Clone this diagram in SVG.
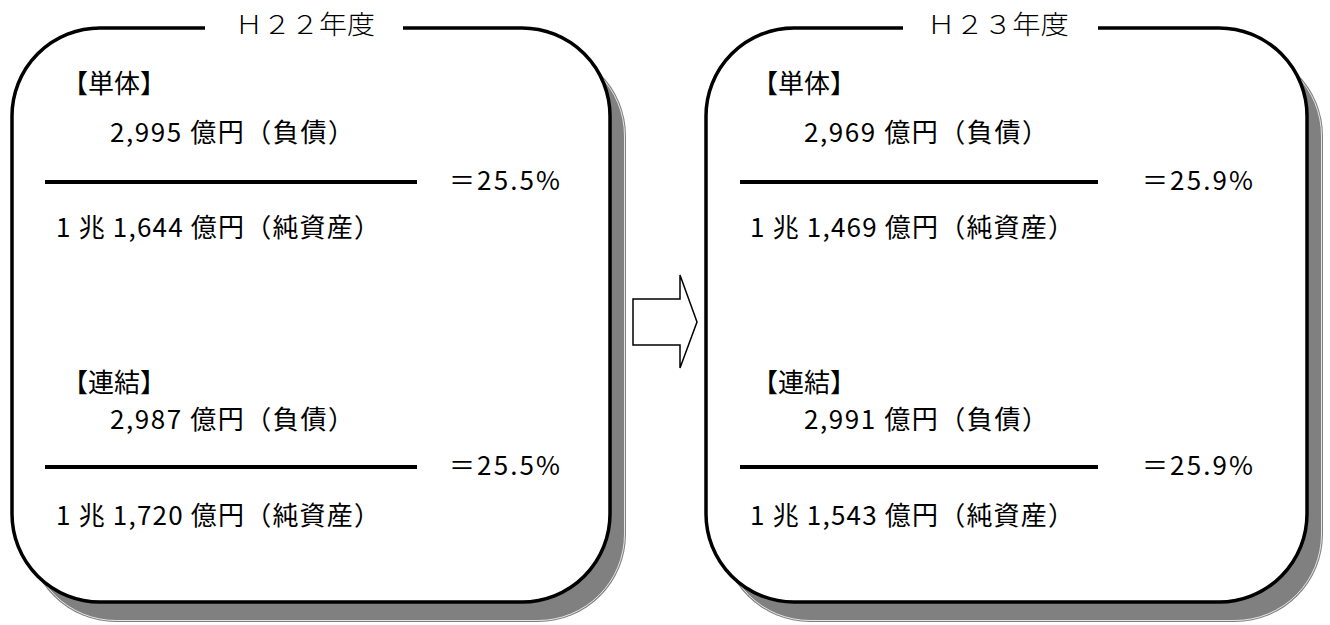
<svg xmlns="http://www.w3.org/2000/svg" width="1330" height="625" viewBox="0 0 1330 625">
<style>
.shadow{fill:#808080;stroke:none}
.shedge{fill:none;stroke:#ffffff;stroke-width:0.8}
.box{fill:#ffffff;stroke:#000000;stroke-width:3.5}
.gap{fill:#ffffff;stroke:none}
.rule{stroke:#000000;stroke-width:4}
.title{font-family:"Noto Sans CJK JP","Noto Sans CJK SC",sans-serif;font-size:26px;font-weight:300;fill:#000}
.t{font-family:"Noto Sans CJK JP","Noto Sans CJK SC",sans-serif;font-size:26px;fill:#000}
.arrow{fill:#ffffff;stroke:#000000;stroke-width:1.5}
</style>
<rect width="1330" height="625" fill="#ffffff"/>

<g id="box-h22">
  <rect class="shadow" x="28" y="48" width="598" height="574" rx="88" ry="88"/>
  <rect class="shedge" x="29.5" y="49.5" width="595" height="571" rx="86.5" ry="86.5"/>
  <rect class="box" x="12" y="28" width="598" height="574" rx="88" ry="88"/>
  <rect class="gap" x="205" y="20" width="198" height="16"/>
  <text class="title" x="235" y="34" textLength="140" lengthAdjust="spacingAndGlyphs">Ｈ２２年度</text>
  <text class="t" x="62" y="93">【単体】</text>
  <text class="t" x="110" y="142" textLength="244" lengthAdjust="spacing">2,995 億円（負債）</text>
  <line class="rule" x1="45" y1="182" x2="417" y2="182"/>
  <text class="t" x="449" y="190" textLength="111" lengthAdjust="spacing">＝25.5%</text>
  <text class="t" x="56" y="237" textLength="324" lengthAdjust="spacing">1 兆 1,644 億円（純資産）</text>
  <text class="t" x="62" y="392">【連結】</text>
  <text class="t" x="110" y="429" textLength="244" lengthAdjust="spacing">2,987 億円（負債）</text>
  <line class="rule" x1="45" y1="467" x2="417" y2="467"/>
  <text class="t" x="449" y="475" textLength="111" lengthAdjust="spacing">＝25.5%</text>
  <text class="t" x="56" y="525" textLength="324" lengthAdjust="spacing">1 兆 1,720 億円（純資産）</text>
</g>

<g id="box-h23">
  <rect class="shadow" x="722" y="48" width="601" height="574" rx="88" ry="88"/>
  <rect class="shedge" x="723.5" y="49.5" width="598" height="571" rx="86.5" ry="86.5"/>
  <rect class="box" x="706" y="28" width="601" height="574" rx="88" ry="88"/>
  <rect class="gap" x="903" y="20" width="195" height="16"/>
  <text class="title" x="927" y="34" textLength="142" lengthAdjust="spacingAndGlyphs">Ｈ２３年度</text>
  <text class="t" x="752" y="93">【単体】</text>
  <text class="t" x="804" y="142" textLength="244" lengthAdjust="spacing">2,969 億円（負債）</text>
  <line class="rule" x1="740" y1="182" x2="1098" y2="182"/>
  <text class="t" x="1142" y="190" textLength="111" lengthAdjust="spacing">＝25.9%</text>
  <text class="t" x="750" y="237" textLength="324" lengthAdjust="spacing">1 兆 1,469 億円（純資産）</text>
  <text class="t" x="752" y="392">【連結】</text>
  <text class="t" x="804" y="429" textLength="244" lengthAdjust="spacing">2,991 億円（負債）</text>
  <line class="rule" x1="740" y1="467" x2="1098" y2="467"/>
  <text class="t" x="1142" y="475" textLength="111" lengthAdjust="spacing">＝25.9%</text>
  <text class="t" x="750" y="525" textLength="324" lengthAdjust="spacing">1 兆 1,543 億円（純資産）</text>
</g>

<g id="connectors">
  <polygon class="arrow" points="633,299 680,299 680,275 697,322 680,368 680,345 633,345"/>
</g>
</svg>
